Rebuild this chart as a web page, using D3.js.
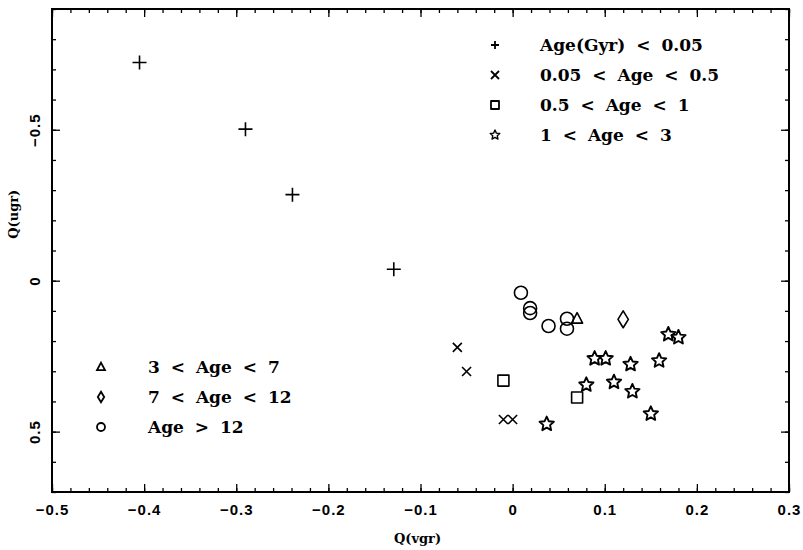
<!DOCTYPE html>
<html>
<head>
<meta charset="utf-8">
<script src="https://cdn.jsdelivr.net/npm/d3@7"></script>
<style>
  body { margin: 0; background: #fff; }
  .tick text { font-family: "Liberation Sans", Arial, sans-serif; font-weight: bold; font-size: 15px; letter-spacing: 1px; }
  .leg { font-family: "DejaVu Serif", serif; font-weight: bold; font-size: 17px; word-spacing: 5px; }
  .title { font-family: "DejaVu Serif", serif; font-weight: bold; font-size: 13px; }
</style>
</head>
<body>
<div class="chart"></div>
<script>
// data
const xTicks = [-0.5, -0.4, -0.3, -0.2, -0.1, 0, 0.1, 0.2, 0.3];
const yTicks = [-0.5, 0, 0.5];

const plusX = [-0.405, -0.290, -0.239, -0.129];
const plusY = [-0.723, -0.502, -0.285, -0.038];
const crossX = [-0.060, -0.050, -0.010, 0.000];
const crossY = [0.221, 0.301, 0.460, 0.460];
const squareX = [-0.010, 0.070];
const squareY = [0.331, 0.387];
const starX = [0.037, 0.080, 0.089, 0.101, 0.110, 0.128, 0.130, 0.150, 0.159, 0.169, 0.180];
const starY = [0.475, 0.345, 0.258, 0.258, 0.336, 0.277, 0.367, 0.441, 0.265, 0.178, 0.188];
const triX = [0.070];
const triY = [0.126];
const diamondX = [0.120];
const diamondY = [0.128];
const circleX = [0.009, 0.019, 0.019, 0.039, 0.059, 0.059];
const circleY = [0.040, 0.091, 0.107, 0.150, 0.126, 0.159];

const legendTop = ['Age(Gyr) < 0.05', '0.05 < Age < 0.5', '0.5 < Age < 1', '1 < Age < 3'];
const legendBottom = ['3 < Age < 7', '7 < Age < 12', 'Age > 12'];

const W = 803, H = 550;
const m = { left: 52, right: 14, top: 9, bottom: 58 };

const svg = d3.select('.chart').append('svg')
    .attr('width', W)
    .attr('height', H);

const x = d3.scaleLinear().domain([-0.5, 0.3]).range([m.left, W - m.right]);
const y = d3.scaleLinear().domain([-0.9, 0.7]).range([m.top, H - m.bottom]);

const fmt = d => d === 0 ? '0' : d3.format('.1f')(d).replace('-', '\u2212');

// minor ticks
const xMinor = d3.range(-0.5, 0.3001, 0.02);
const yMinor = d3.range(-0.9, 0.7001, 0.1);

const axisStyle = g => {
    g.select('.domain').remove();
    g.selectAll('.tick line').attr('stroke', '#000').attr('stroke-width', 1.3);
};

svg.append('g').attr('transform', `translate(0,${y.range()[1]})`)
    .call(d3.axisBottom(x).tickValues(xMinor).tickSize(-4).tickFormat(''))
    .call(axisStyle);
svg.append('g').attr('transform', `translate(0,${y.range()[0]})`)
    .call(d3.axisTop(x).tickValues(xMinor).tickSize(-4).tickFormat(''))
    .call(axisStyle);
svg.append('g').attr('transform', `translate(${x.range()[0]},0)`)
    .call(d3.axisLeft(y).tickValues(yMinor).tickSize(-4).tickFormat(''))
    .call(axisStyle);
svg.append('g').attr('transform', `translate(${x.range()[1]},0)`)
    .call(d3.axisRight(y).tickValues(yMinor).tickSize(-4).tickFormat(''))
    .call(axisStyle);

// major ticks + labels
svg.append('g').attr('transform', `translate(0,${y.range()[1]})`)
    .call(d3.axisBottom(x).tickValues(xTicks).tickSize(-8).tickPadding(12).tickFormat(fmt))
    .call(axisStyle);
svg.append('g').attr('transform', `translate(0,${y.range()[0]})`)
    .call(d3.axisTop(x).tickValues(xTicks).tickSize(-8).tickFormat(''))
    .call(axisStyle);
const yAx = svg.append('g').attr('transform', `translate(${x.range()[0]},0)`)
    .call(d3.axisLeft(y).tickValues(yTicks).tickSize(-8).tickFormat(fmt))
    .call(axisStyle);
yAx.selectAll('.tick text')
    .attr('x', null)
    .attr('text-anchor', 'middle')
    .attr('transform', 'translate(-12,0) rotate(-90)')
    .attr('dy', '0');
svg.append('g').attr('transform', `translate(${x.range()[1]},0)`)
    .call(d3.axisRight(y).tickValues(yTicks).tickSize(-8).tickFormat(''))
    .call(axisStyle);

// frame
svg.append('rect')
    .attr('x', x.range()[0]).attr('y', y.range()[0])
    .attr('width', x.range()[1] - x.range()[0])
    .attr('height', y.range()[1] - y.range()[0])
    .attr('fill', 'none').attr('stroke', '#000').attr('stroke-width', 2);

// axis titles
svg.append('text').attr('class', 'title')
    .attr('x', (x.range()[0] + x.range()[1]) / 2 - 3).attr('y', 543)
    .attr('text-anchor', 'middle').text('Q(vgr)');
svg.append('text').attr('class', 'title')
    .attr('transform', `translate(18,${y(-0.22)}) rotate(-90)`)
    .attr('text-anchor', 'middle').text('Q(ugr)');

// five-pointed star outline, outer radius r, inner radius k*r
const starPath = (r, k) => {
    const pts = d3.range(10).map(i => {
        const a = -Math.PI / 2 + i * Math.PI / 5;
        const rr = i % 2 ? r * k : r;
        return [rr * Math.cos(a), rr * Math.sin(a)];
    });
    return d3.line()(pts) + 'Z';
};

// marker shapes, s = size in px
const shapes = {
    plus: s => `M${-s / 2},0H${s / 2}M0,${-s / 2}V${s / 2}`,
    cross: s => `M${-s / 2},${-s / 2}L${s / 2},${s / 2}M${-s / 2},${s / 2}L${s / 2},${-s / 2}`,
    square: s => `M${-s / 2},${-s / 2}h${s}v${s}h${-s}Z`,
    star: s => starPath(s / 2, 0.47),
    triangle: s => `M0,${-s * 0.55}L${s * 0.5},${s * 0.4}L${-s * 0.5},${s * 0.4}Z`,
    diamond: s => `M0,${-s * 0.65}L${s * 0.4},0L0,${s * 0.65}L${-s * 0.4},0Z`,
    circle: s => d3.symbol(d3.symbolCircle, Math.PI * s * s / 4)()
};

const groups = [
    { shape: 'plus', xs: plusX, ys: plusY, size: 14 },
    { shape: 'cross', xs: crossX, ys: crossY, size: 9 },
    { shape: 'square', xs: squareX, ys: squareY, size: 11 },
    { shape: 'star', xs: starX, ys: starY, size: 15 },
    { shape: 'triangle', xs: triX, ys: triY, size: 11 },
    { shape: 'diamond', xs: diamondX, ys: diamondY, size: 13 },
    { shape: 'circle', xs: circleX, ys: circleY, size: 13 }
];

groups.forEach(g => {
    svg.append('g').selectAll('path')
        .data(g.xs.map((v, i) => [v, g.ys[i]]))
        .enter()
        .append('path')
        .attr('transform', d => `translate(${x(d[0])},${y(d[1])})`)
        .attr('d', shapes[g.shape](g.size))
        .attr('fill', 'none')
        .attr('stroke', '#000')
        .attr('stroke-width', g.shape === 'star' ? 1.9 : 1.6)
        .attr('stroke-linejoin', 'round');
});

// legends
const legTop = svg.append('g').selectAll('g')
    .data(legendTop)
    .enter()
    .append('g')
    .attr('transform', (d, i) => `translate(495, ${45 + i * 30})`);
legTop.append('path')
    .attr('d', (d, i) => shapes[groups[i].shape](i === 3 ? 10 : 8))
    .attr('fill', 'none').attr('stroke', '#000')
    .attr('stroke-width', (d, i) => i === 3 ? 1.4 : 1.8)
    .attr('stroke-linejoin', 'round');
legTop.append('text').attr('class', 'leg')
    .attr('x', 45).attr('dy', '0.35em')
    .text(d => d);

const legBot = svg.append('g').selectAll('g')
    .data(legendBottom)
    .enter()
    .append('g')
    .attr('transform', (d, i) => `translate(101, ${367 + i * 30})`);
legBot.append('path')
    .attr('d', (d, i) => shapes[groups[i + 4].shape](8))
    .attr('fill', 'none').attr('stroke', '#000').attr('stroke-width', 1.8);
legBot.append('text').attr('class', 'leg')
    .attr('x', 47).attr('dy', '0.35em')
    .text(d => d);
</script>
</body>
</html>
